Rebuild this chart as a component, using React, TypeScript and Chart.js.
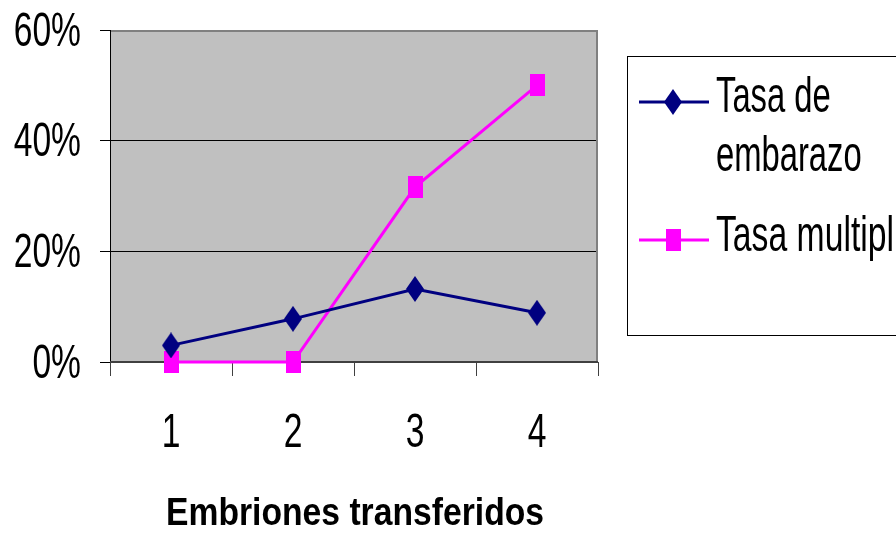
import React, { useEffect, useRef } from "react";
import { Chart, registerables } from "chart.js";

Chart.register(...registerables);

const categories = ["1", "2", "3", "4"];
const seriesNames = ["Tasa de embarazo", "Tasa multiple"];
const embarazo = [3.0, 7.8, 13.2, 8.9];
const multiple = [0, 0, 31.6, 50.0];
const yTicks = [0, 20, 40, 60];
const xTitle = "Embriones transferidos";

const FONT = "'Liberation Sans', Arial, sans-serif";
const NAVY = "#000080";
const MAGENTA = "#FF00FF";
const NARROW = 0.7;
const LEGEND_NARROW = 0.655;

function makeDiamond(w: number, h: number, color: string) {
  const c = document.createElement("canvas");
  c.width = w;
  c.height = h;
  const ctx = c.getContext("2d")!;
  ctx.fillStyle = color;
  ctx.beginPath();
  ctx.moveTo(w / 2, 0);
  ctx.lineTo(w, h / 2);
  ctx.lineTo(w / 2, h);
  ctx.lineTo(0, h / 2);
  ctx.closePath();
  ctx.fill();
  return c;
}

function makeRect(w: number, h: number, color: string) {
  const c = document.createElement("canvas");
  c.width = w;
  c.height = h;
  const ctx = c.getContext("2d")!;
  ctx.fillStyle = color;
  ctx.fillRect(0, 0, w, h);
  return c;
}

function narrowText(
  ctx: CanvasRenderingContext2D,
  text: string,
  x: number,
  y: number,
  align: CanvasTextAlign,
  font: string,
  sx: number
) {
  ctx.save();
  ctx.font = font;
  ctx.fillStyle = "#000000";
  ctx.textBaseline = "alphabetic";
  ctx.textAlign = align;
  ctx.translate(x, y);
  ctx.scale(sx, 1);
  ctx.fillText(text, 0, 0);
  ctx.restore();
}

export default function App() {
  const ref = useRef<HTMLCanvasElement | null>(null);

  useEffect(() => {
    const canvas = ref.current!;
    const diamond = makeDiamond(18, 26, NAVY);
    const square = makeRect(15, 22, MAGENTA);

    const bgPlugin = {
      id: "bgPlugin",
      beforeDraw(chart: any) {
        const { ctx, chartArea: a } = chart;
        ctx.save();
        ctx.fillStyle = "#FFFFFF";
        ctx.fillRect(0, 0, chart.width, chart.height);
        ctx.fillStyle = "#C0C0C0";
        ctx.fillRect(a.left, a.top, a.right - a.left, a.bottom - a.top);
        ctx.restore();
      },
      beforeDatasetsDraw(chart: any) {
        const { ctx, chartArea: a } = chart;
        ctx.save();
        ctx.strokeStyle = "#808080";
        ctx.lineWidth = 2;
        ctx.beginPath();
        ctx.moveTo(a.left, a.top + 1);
        ctx.lineTo(a.right - 1, a.top + 1);
        ctx.lineTo(a.right - 1, a.bottom);
        ctx.stroke();
        ctx.strokeStyle = "#000000";
        ctx.lineWidth = 1;
        ctx.beginPath();
        ctx.moveTo(a.left + 0.5, a.top);
        ctx.lineTo(a.left + 0.5, a.bottom);
        ctx.stroke();
        ctx.strokeStyle = "#404040";
        ctx.lineWidth = 2;
        ctx.beginPath();
        ctx.moveTo(a.left, a.bottom);
        ctx.lineTo(a.right, a.bottom);
        ctx.stroke();
        ctx.restore();
      },
    };

    const textPlugin = {
      id: "narrowTexts",
      afterDraw(chart: any) {
        const { ctx } = chart;
        const xs = chart.scales.x;
        const ys = chart.scales.y;
        const f = `48px ${FONT}`;
        yTicks.forEach((v) => {
          narrowText(ctx, `${v}%`, 81, ys.getPixelForValue(v) + 15.5, "right", f, NARROW);
        });
        categories.forEach((c, i) => {
          narrowText(ctx, c, xs.getPixelForValue(i), 447, "center", f, NARROW);
        });
        // axis title, fitted to the reference width
        const tf = `bold 38px ${FONT}`;
        ctx.save();
        ctx.font = tf;
        const w = ctx.measureText(xTitle).width;
        ctx.restore();
        const cx = (chart.chartArea.left + chart.chartArea.right) / 2;
        narrowText(ctx, xTitle, cx + 1, 525, "center", tf, 378 / w);

        // legend
        ctx.save();
        ctx.strokeStyle = "#000000";
        ctx.lineWidth = 1;
        ctx.strokeRect(627.5, 56.5, 400, 279);
        const ds = chart.data.datasets;
        ctx.strokeStyle = ds[0].borderColor;
        ctx.lineWidth = 3;
        ctx.beginPath();
        ctx.moveTo(639, 102);
        ctx.lineTo(709, 102);
        ctx.stroke();
        ctx.drawImage(diamond, 673 - 9, 102 - 13);
        ctx.strokeStyle = ds[1].borderColor;
        ctx.beginPath();
        ctx.moveTo(639, 240);
        ctx.lineTo(709, 240);
        ctx.stroke();
        ctx.drawImage(square, 673 - 7.5, 240 - 11);
        ctx.restore();
        const lf = `50px ${FONT}`;
        const words = String(ds[0].label).split(" ");
        narrowText(ctx, words.slice(0, 2).join(" "), 716, 112, "left", lf, LEGEND_NARROW);
        narrowText(ctx, words.slice(2).join(" "), 716, 171, "left", lf, LEGEND_NARROW);
        // second entry: text runs past the picture edge, visible up to "multipl"
        const label2 = String(ds[1].label);
        ctx.save();
        ctx.font = lf;
        const pre = ctx.measureText(label2.slice(0, label2.length - 1)).width;
        ctx.restore();
        const sx2 = (894 - 716) / pre;
        ctx.save();
        ctx.beginPath();
        ctx.rect(628, 57, 894 - 628, 278);
        ctx.clip();
        narrowText(ctx, label2, 716, 251, "left", lf, sx2);
        ctx.restore();
      },
    };

    const chart = new Chart(canvas, {
      type: "line",
      data: {
        labels: categories,
        datasets: [
          {
            label: seriesNames[0],
            data: embarazo,
            borderColor: NAVY,
            backgroundColor: NAVY,
            borderWidth: 3,
            pointStyle: diamond as any,
            pointRadius: 10,
            tension: 0,
          },
          {
            label: seriesNames[1],
            data: multiple,
            borderColor: MAGENTA,
            backgroundColor: MAGENTA,
            borderWidth: 3,
            pointStyle: square as any,
            pointRadius: 10,
            tension: 0,
          },
        ],
      },
      options: {
        responsive: false,
        animation: false,
        clip: false as any,
        layout: { padding: { top: 30, right: 298, bottom: 0, left: 0 } },
        plugins: { legend: { display: false }, tooltip: { enabled: false } },
        scales: {
          x: {
            offset: true,
            grid: {
              offset: true,
              drawOnChartArea: false,
              drawTicks: true,
              tickLength: 14,
              color: "#404040",
              tickWidth: 1,
            },
            border: { display: false },
            ticks: { display: false },
            afterFit(scale: any) {
              scale.height = 173;
            },
          },
          y: {
            min: 0,
            max: 60,
            afterBuildTicks(scale: any) {
              scale.ticks = yTicks.map((v) => ({ value: v }));
            },
            grid: {
              color: "#000000",
              lineWidth: 1,
              drawTicks: true,
              tickLength: 10,
            },
            border: { display: false },
            ticks: { display: false },
            afterFit(scale: any) {
              scale.width = 110;
            },
          },
        },
      },
      plugins: [bgPlugin, textPlugin],
    });
    return () => chart.destroy();
  }, []);

  return (
    <div style={{ position: "absolute", left: 0, top: 0, width: 896, height: 535, overflow: "hidden" }}>
      <canvas ref={ref} width={896} height={535} />
    </div>
  );
}
